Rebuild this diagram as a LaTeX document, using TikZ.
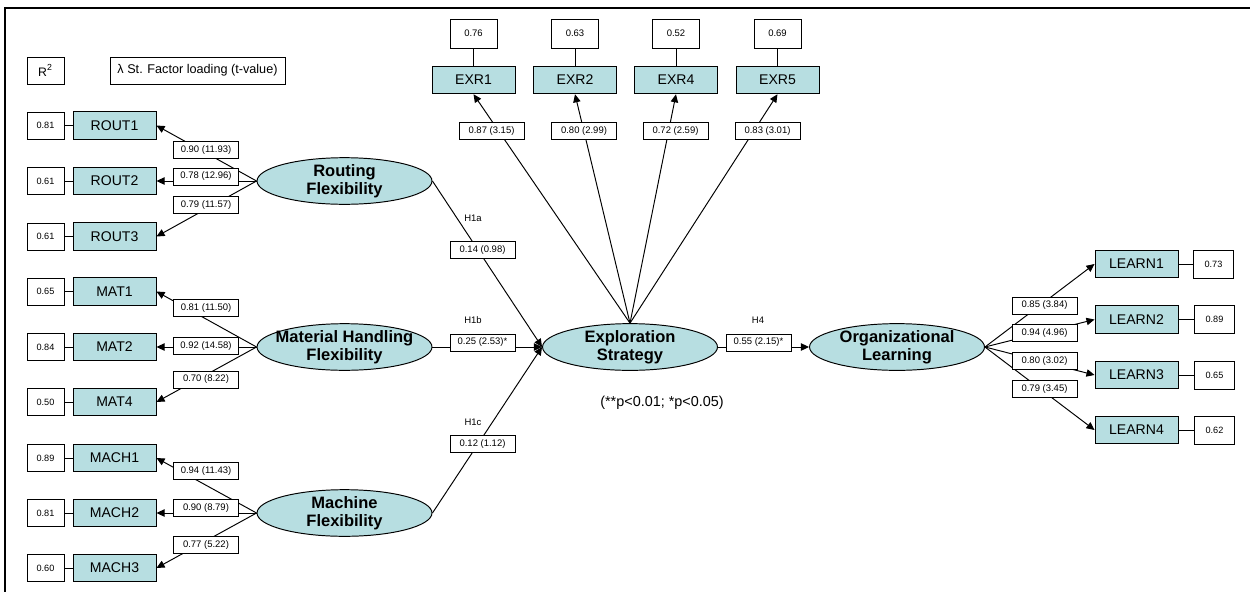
\documentclass[tikz,border=0pt]{standalone}
\usepackage{fontspec}
\setmainfont{Liberation Sans}
\usetikzlibrary{arrows.meta,shapes.geometric}
\definecolor{indfill}{HTML}{B7DEE1}
\begin{document}
\begin{tikzpicture}[x=0.02cm,y=-0.02cm,line width=0.55pt,
    ind/.style={draw,fill=indfill,minimum width=1.66cm,minimum height=0.55cm,inner sep=0pt,font=\fontsize{8}{9}\selectfont},
    lat/.style={draw,ellipse,fill=indfill,minimum width=3.5cm,minimum height=0.92cm,inner ysep=0pt,inner xsep=-5pt,align=center,font=\fontsize{9.4}{10}\selectfont\bfseries},
    rsq/.style={draw,fill=white,minimum width=0.74cm,minimum height=0.54cm,inner sep=0pt,font=\fontsize{5.2}{6}\selectfont},
    rsqtop/.style={rsq,minimum width=0.94cm,minimum height=0.58cm,font=\fontsize{5.4}{6}\selectfont},
    rsqright/.style={rsq,minimum width=0.8cm,minimum height=0.56cm},
    est/.style={draw,fill=white,minimum width=1.3cm,minimum height=0.34cm,inner sep=0pt,font=\fontsize{5.4}{6}\selectfont},
    hyp/.style={inner sep=0pt,font=\fontsize{5.4}{6}\selectfont}]
  \useasboundingbox (0,0) rectangle (1250,592);
  \draw[line width=1.2pt] (1250,8) -- (5,8) -- (5,592);
  % key
  \draw
    (45.5,70.5) node[rsq,font=\fontsize{7}{8}\selectfont] (rsqkey){R\textsuperscript{2}}
    (197.5,70.5) node[rsq,minimum width=3.5cm,font=\fontsize{7.2}{8}\selectfont] (lamkey){λ St. Factor loading (t-value)};
  % latent variables
  \draw
    (344.5,181) node[lat] (rout){Routing\\Flexibility}
    (344.5,347) node[lat] (mat){Material Handling\\Flexibility}
    (344.5,513) node[lat] (mach){Machine\\Flexibility}
    (630,347) node[lat] (expl){Exploration\\Strategy}
    (897,347) node[lat] (org){Organizational\\Learning};
  % indicators
  \draw
    (114.5,125.5) node[ind] (rout1){ROUT1}
    (114.5,181) node[ind] (rout2){ROUT2}
    (114.5,236.5) node[ind] (rout3){ROUT3}
    (114.5,291.5) node[ind] (mat1){MAT1}
    (114.5,347) node[ind] (mat2){MAT2}
    (114.5,402) node[ind] (mat4){MAT4}
    (114.5,458) node[ind] (mach1){MACH1}
    (114.5,513) node[ind] (mach2){MACH2}
    (114.5,568) node[ind] (mach3){MACH3}
    (473.5,80) node[ind] (exr1){EXR1}
    (575,80) node[ind] (exr2){EXR2}
    (676,80) node[ind] (exr4){EXR4}
    (777.5,80) node[ind] (exr5){EXR5}
    (1136.5,264) node[ind] (learn1){LEARN1}
    (1136.5,319.5) node[ind] (learn2){LEARN2}
    (1136.5,375) node[ind] (learn3){LEARN3}
    (1136.5,430) node[ind] (learn4){LEARN4};
  % R2 values
  \draw
    (45.5,125.5) node[rsq] (r2rout1){0.81}
    (45.5,181) node[rsq] (r2rout2){0.61}
    (45.5,236.5) node[rsq] (r2rout3){0.61}
    (45.5,291.5) node[rsq] (r2mat1){0.65}
    (45.5,347) node[rsq] (r2mat2){0.84}
    (45.5,402) node[rsq] (r2mat4){0.50}
    (45.5,458) node[rsq] (r2mach1){0.89}
    (45.5,513) node[rsq] (r2mach2){0.81}
    (45.5,568) node[rsq] (r2mach3){0.60}
    (473.5,33.5) node[rsqtop] (r2exr1){0.76}
    (575,33.5) node[rsqtop] (r2exr2){0.63}
    (676,33.5) node[rsqtop] (r2exr4){0.52}
    (777.5,33.5) node[rsqtop] (r2exr5){0.69}
    (1213.5,264) node[rsqright] (r2learn1){0.73}
    (1214.5,319.5) node[rsqright] (r2learn2){0.89}
    (1214.5,375) node[rsqright] (r2learn3){0.65}
    (1214.5,430) node[rsqright] (r2learn4){0.62};
  \begin{scope}[-]
    \draw (r2rout1) to (rout1);
    \draw (r2rout2) to (rout2);
    \draw (r2rout3) to (rout3);
    \draw (r2mat1) to (mat1);
    \draw (r2mat2) to (mat2);
    \draw (r2mat4) to (mat4);
    \draw (r2mach1) to (mach1);
    \draw (r2mach2) to (mach2);
    \draw (r2mach3) to (mach3);
    \draw (r2exr1) to (exr1);
    \draw (r2exr2) to (exr2);
    \draw (r2exr4) to (exr4);
    \draw (r2exr5) to (exr5);
    \draw (learn1) to (r2learn1);
    \draw (learn2) to (r2learn2);
    \draw (learn3) to (r2learn3);
    \draw (learn4) to (r2learn4);
  \end{scope}
  \begin{scope}[-{Triangle[length=4.6pt,width=4.2pt]}]
    \draw (rout.west) to (rout1.east);
    \draw (rout.west) to (rout2.east);
    \draw (rout.west) to (rout3.east);
    \draw (mat.west) to (mat1.east);
    \draw (mat.west) to (mat2.east);
    \draw (mat.west) to (mat4.east);
    \draw (mach.west) to (mach1.east);
    \draw (mach.west) to (mach2.east);
    \draw (mach.west) to (mach3.east);
    \draw (expl.north) to (exr1.south);
    \draw (expl.north) to (exr2.south);
    \draw (expl.north) to (exr4.south);
    \draw (expl.north) to (exr5.south);
    \draw (rout.east) to (expl.west);
    \draw (mat.east) to (expl.west);
    \draw (mach.east) to (expl.west);
    \draw (expl.east) to (org.west);
    \draw (org.east) to (learn1.west);
    \draw (org.east) to (learn2.west);
    \draw (org.east) to (learn3.west);
    \draw (org.east) to (learn4.west);
  \end{scope}
  % estimates
  \draw
    (206,150) node[est] (erout1){0.90 (11.93)}
    (206,176.5) node[est] (erout2){0.78 (12.96)}
    (206,205) node[est] (erout3){0.79 (11.57)}
    (206,308) node[est] (emat1){0.81 (11.50)}
    (206,346) node[est] (emat2){0.92 (14.58)}
    (206,379.5) node[est] (emat4){0.70 (8.22)}
    (206,471) node[est] (emach1){0.94 (11.43)}
    (206,508) node[est] (emach2){0.90 (8.79)}
    (206,545) node[est] (emach3){0.77 (5.22)}
    (491.5,131) node[est] (eexr1){0.87 (3.15)}
    (584,131) node[est] (eexr2){0.80 (2.99)}
    (675.5,131) node[est] (eexr4){0.72 (2.59)}
    (767.5,131) node[est] (eexr5){0.83 (3.01)}
    (1044.5,305.5) node[est] (elearn1){0.85 (3.84)}
    (1044.5,333) node[est] (elearn2){0.94 (4.96)}
    (1044.5,361) node[est] (elearn3){0.80 (3.02)}
    (1044.5,389) node[est] (elearn4){0.79 (3.45)}
    (482.5,250) node[est] (eh1a){0.14 (0.98)}
    (482.5,342.5) node[est] (eh1b){0.25 (2.53)*}
    (482.5,444) node[est] (eh1c){0.12 (1.12)}
    (758.5,342.5) node[est] (eh4){0.55 (2.15)*};
  \draw
    (473,218) node[hyp] (h1a){H1a}
    (473,320) node[hyp] (h1b){H1b}
    (473,422) node[hyp] (h1c){H1c}
    (758,320) node[hyp] (h4){H4}
    (662,403) node[inner sep=0pt,font=\fontsize{8.2}{9}\selectfont] (note){(**p<0.01; *p<0.05)};
\end{tikzpicture}
\end{document}
